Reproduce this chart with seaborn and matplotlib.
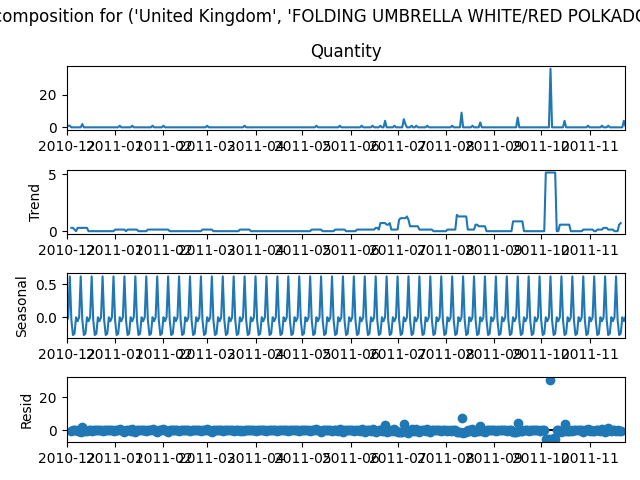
import numpy as np
import pandas as pd
import seaborn as sns
import matplotlib
matplotlib.use("Agg")
import matplotlib.pyplot as plt

BLUE = "#1f77b4"
title = "Decomposition for ('United Kingdom', 'FOLDING UMBRELLA WHITE/RED POLKADOT')"

start_date = "2010-12-01"
n_days = 359

# days with a sale, everything else is zero
quantity_days = [1, 2, 10, 34, 42, 55, 62, 90, 114, 160, 175, 189, 196, 201, 204, 210, 216,
                 217, 221, 224, 231, 247, 253, 260, 265, 289, 310, 319, 334, 343, 347, 357, 358]
quantity_vals = [1, 1, 2, 1, 1, 1, 1, 1, 1, 1, 1, 1, 1, 1, 4, 1, 5,
                 2, 1, 1, 1, 1, 9, 1, 3, 6, 36, 4, 1, 1, 1, 4, 1]

# trend is flat in steps, so level + how many days it stays there (from day 3 on)
trend_levels = [.29, .14, 0, .29, 0, .14, 0, .14, 0, .14, 0, .14, 0, .14, 0, .14, 0, .14, 0, .14,
                .29, .14, .71, .57, .71, .14, 1.0, 1.14, 1.29, 1.0, .43, .14, 0, .14, 1.43, 1.29,
                .14, .57, .43, 0, .86, 0, 5.14, 0, .57, 0, .14, 0, .14, .29, .14, 0, .57, .71]
trend_runs = [2, 1, 1, 7, 17, 7, 1, 7, 6, 14, 21, 7, 17, 7, 39, 7, 8, 7, 7, 12,
              2, 1, 4, 2, 1, 5, 1, 4, 1, 1, 6, 9, 9, 6, 1, 6,
              5, 2, 5, 17, 7, 14, 7, 2, 7, 8, 7, 2, 4, 3, 4, 3, 1, 1]

seasonal_vals = [
    -.06, 0,
    .62, -.04, -.27, -.25, 0, -.06, 0, .62, -.04, -.27, -.25, 0, -.06, 0,
    .62, -.04, -.27, -.25, 0, -.06, 0, .62, -.04, -.27, -.25, 0, -.06, 0,
    .62, -.04, -.27, -.25, 0, -.06, 0, .62, -.04, -.27, -.25, 0, -.06, 0,
    .62, -.04, -.27, -.25, 0, -.06, 0, .62, -.04, -.27, -.25, 0, -.06, 0,
    .62, -.04, -.27, -.25, 0, -.06, 0, .62, -.04, -.27, -.25, 0, -.06, 0,
    .62, -.04, -.27, -.25, 0, -.06, 0, .62, -.04, -.27, -.25, 0, -.06, 0,
    .62, -.04, -.27, -.25, 0, -.06, 0, .62, -.04, -.27, -.25, 0, -.06, 0,
    .62, -.04, -.27, -.25, 0, -.06, 0, .62, -.04, -.27, -.25, 0, -.06, 0,
    .62, -.04, -.27, -.25, 0, -.06, 0, .62, -.04, -.27, -.25, 0, -.06, 0,
    .62, -.04, -.27, -.25, 0, -.06, 0, .62, -.04, -.27, -.25, 0, -.06, 0,
    .62, -.04, -.27, -.25, 0, -.06, 0, .62, -.04, -.27, -.25, 0, -.06, 0,
    .62, -.04, -.27, -.25, 0, -.06, 0, .62, -.04, -.27, -.25, 0, -.06, 0,
    .62, -.04, -.27, -.25, 0, -.06, 0, .62, -.04, -.27, -.25, 0, -.06, 0,
    .62, -.04, -.27, -.25, 0, -.06, 0, .62, -.04, -.27, -.25, 0, -.06, 0,
    .62, -.04, -.27, -.25, 0, -.06, 0, .62, -.04, -.27, -.25, 0, -.06, 0,
    .62, -.04, -.27, -.25, 0, -.06, 0, .62, -.04, -.27, -.25, 0, -.06, 0,
    .62, -.04, -.27, -.25, 0, -.06, 0, .62, -.04, -.27, -.25, 0, -.06, 0,
    .62, -.04, -.27, -.25, 0, -.06, 0, .62, -.04, -.27, -.25, 0, -.06, 0,
    .62, -.04, -.27, -.25, 0, -.06, 0, .62, -.04, -.27, -.25, 0, -.06, 0,
    .62, -.04, -.27, -.25, 0, -.06, 0, .62, -.04, -.27, -.25, 0, -.06, 0,
    .62, -.04, -.27, -.25, 0, -.06, 0, .62, -.04, -.27, -.25, 0, -.06, 0,
    .62, -.04, -.27, -.25, 0, -.06, 0, .62, -.04, -.27, -.25, 0, -.06, 0,
    .62, -.04, -.27, -.25, 0, -.06, 0, .62, -.04, -.27, -.25, 0, -.06, 0,
    .62, -.04, -.27, -.25, 0, -.06, 0, .62, -.04, -.27, -.25, 0, -.06, 0,
    .62, -.04, -.27, -.25, 0, -.06, 0, .62, -.04, -.27, -.25, 0, -.06, 0,
    .62, -.04, -.27, -.25, 0, -.06, 0,
]

# residual from day 3 to day 355, one week per line
resid_vals = [
    -.13, -.03, .03, 0, -.24, -.31, -.91,
    1.87, -.03, -.12, -.29, .05, -.02, -.62,
    .16, .26, .17, 0, .05, -.02, -.62,
    .16, .26, .17, 0, .05, -.02, -.62,
    .02, .12, .03, .86, -.09, -.16, -.76,
    .16, .12, .03, -.14, .91, -.16, -.76,
    .02, .26, .17, 0, .05, -.02, -.62,
    .02, .12, .03, .86, -.09, -.16, -.76,
    .02, .12, .03, .86, -.09, -.16, -.76,
    .16, .26, .17, 0, .05, -.02, -.62,
    .16, .26, .17, 0, .05, -.02, -.62,
    .16, .26, .17, 0, .05, -.02, -.62,
    .02, .12, .03, .86, -.09, -.16, -.76,
    .16, .26, .17, 0, .05, -.02, -.62,
    .16, .26, .17, 0, .05, -.02, -.62,
    .16, .26, .17, -.14, -.09, -.16, .24,
    .02, .12, .03, 0, .05, -.02, -.62,
    .16, .26, .17, 0, .05, -.02, -.62,
    .16, .26, .17, 0, .05, -.02, -.62,
    .16, .26, .17, 0, .05, -.02, -.62,
    .16, .26, .17, 0, .05, -.02, -.62,
    .16, .26, .17, 0, .05, -.02, -.62,
    .02, .12, .03, .86, -.09, -.16, -.76,
    .16, .26, .17, 0, .05, -.02, -.62,
    .16, .12, .03, -.14, .91, -.16, -.76,
    .02, .26, .17, 0, .05, -.02, -.62,
    .16, .12, .03, -.14, .91, -.16, -.76,
    .02, .12, .03, -.14, .91, -.16, -.91,
    -.13, .12, .46, -.71, -.66, 3.27, -1.19,
    -.41, -.45, .03, -.14, .91, -.16, -.76,
    -.84, -.88, -.97, 3.86, .91, -1.31, -1.62,
    -.27, .83, -.26, -.43, .62, -.45, -.76,
    .02, .12, .03, -.14, .91, -.16, -.76,
    .02, .26, .17, 0, .05, -.02, -.62,
    .16, .26, .17, -.14, -.09, -.16, .24,
    .02, .12, -1.26, -1.29, -1.24, 7.69, -1.91,
    -1.13, -1.03, .03, -.14, -.09, .84, -.76,
    -.41, -.31, -.26, 2.57, -.38, -.45, -1.05,
    .16, .26, .17, 0, .05, -.02, -.62,
    .16, .26, .17, 0, .05, -.02, -.62,
    .16, .26, .17, -.86, -.81, -.88, 4.52,
    -.70, -.60, -.69, 0, .05, -.02, -.62,
    .16, .26, .17, 0, .05, -.02, -.62,
    .16, .26, .17, -5.14, -5.09, -5.16, 30.24,
    -4.98, -4.88, -4.97, 0, .05, -.59, -1.19,
    -.41, 3.69, -.40, -.57, -.52, -.02, -.62,
    .16, .26, .17, 0, .05, -.02, -.76,
    .02, .12, 1.03, -.14, -.09, -.16, -.62,
    .16, .12, .03, -.14, .91, -.31, -.91,
    -.13, 1.12, .03, -.14, -.09, -.02, -.62,
    .16, -.31, -.54,
]

dates = pd.date_range(start_date, periods=n_days)
quantity = np.zeros(n_days)
quantity[quantity_days] = quantity_vals
# period is 7 so the centred trend and the resid lose 3 days on each end
trend = np.r_[[np.nan] * 3, np.repeat(trend_levels, trend_runs), [np.nan] * 3]
resid = np.r_[[np.nan] * 3, resid_vals, [np.nan] * 3]
df = pd.DataFrame({"date": dates, "Quantity": quantity, "Trend": trend,
                   "Seasonal": seasonal_vals, "Resid": resid})

fig, axes = plt.subplots(4, 1, figsize=(6.4, 4.8))
fig.subplots_adjust(left=0.1042, right=0.9772, top=0.863, bottom=0.0796, hspace=0.61)
fig.suptitle(title, y=0.983)

for ax, name in zip(axes, ["Quantity", "Trend", "Seasonal"]):
    sns.lineplot(data=df, x="date", y=name, color=BLUE, ax=ax)

# resid is markers only, with the zero line behind
sns.scatterplot(data=df, x="date", y="Resid", color=BLUE, s=36, edgecolor=BLUE, linewidth=1, ax=axes[3])
axes[3].axhline(0, color="#000000", lw=1.5, zorder=-3)

axes[0].set_title("Quantity")
axes[0].set_ylabel("")
for ax in axes:
    ax.set_xlabel("")
    ax.set_xlim(dates[0], dates[-1])

fig.savefig("out.png", dpi=100)
